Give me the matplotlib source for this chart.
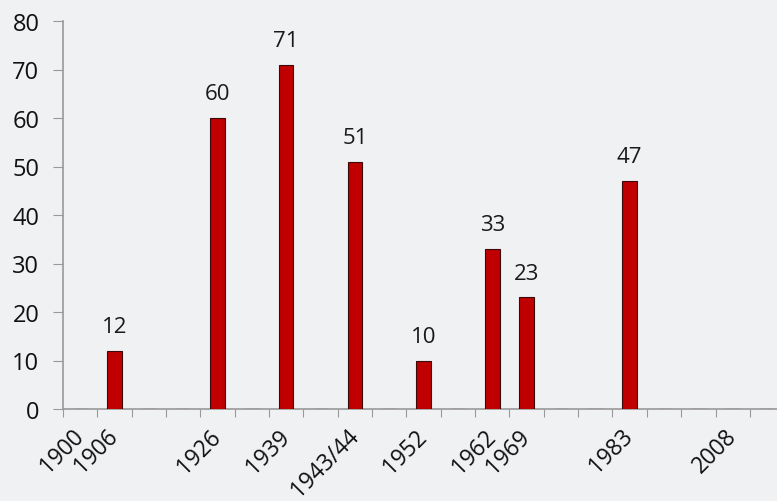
import matplotlib
matplotlib.use("Agg")
import matplotlib.pyplot as plt
import numpy as np

# one slot per category; empty strings are the unlabelled gaps
years = ["1900", "1906", "", "", "1926", "", "1939", "", "1943/44", "",
         "1952", "", "1962", "1969", "", "", "1983", "", "", "2008", ""]
counts = [0, 12, 0, 0, 60, 0, 71, 0, 51, 0,
          10, 0, 33, 23, 0, 0, 47, 0, 0, 0, 0]
shown = [False, True, False, False, True, False, True, False, True, False,
         True, False, True, True, False, False, True, False, False, False, False]

plt.rcParams['font.family'] = ['Open Sans', 'DejaVu Sans']
bg = '#f0f1f3'

fig = plt.figure(figsize=(7.77, 5.02), dpi=100, facecolor=bg)
ax = fig.add_axes([63 / 777, 92 / 502, 714 / 777, 388 / 502])
ax.set_facecolor(bg)

x = np.arange(len(years))
h = [c if s else 0 for c, s in zip(counts, shown)]
ax.bar(x, h, width=0.42, color='#c00000', edgecolor='#3a0a0a', linewidth=0.8, zorder=3)

for xi, c, s in zip(x, counts, shown):
    if s:
        ax.annotate(str(c), (xi, c), xytext=(0, 10), textcoords='offset points',
                    ha='center', va='bottom', fontsize=16, color='#1a1a1a')

ax.set_yticks(range(0, 81, 10))
ax.tick_params(axis='y', labelsize=17, length=7, color='#999999', pad=10, labelcolor='#111111')

ax.set_xticks(np.arange(-0.5, 20.3, 1), minor=False)
ax.set_xticklabels([])
ax.set_xticks(x, minor=True)
ax.set_xticklabels(years, minor=True, rotation=45, ha='right', va='center',
                   rotation_mode='anchor', fontsize=16.3, color='#111111')
ax.tick_params(axis='x', which='major', length=6, color='#999999', direction='out')
ax.tick_params(axis='x', which='minor', length=0, pad=17)

ax.set_xlim(-0.5, 20.29)
ax.set_ylim(0, 80)

for side in ['top', 'right']:
    ax.spines[side].set_visible(False)
for side in ['left', 'bottom']:
    ax.spines[side].set_color('#999999')
    ax.spines[side].set_linewidth(1.2)

fig.savefig('out.png', dpi=100, facecolor=bg)
